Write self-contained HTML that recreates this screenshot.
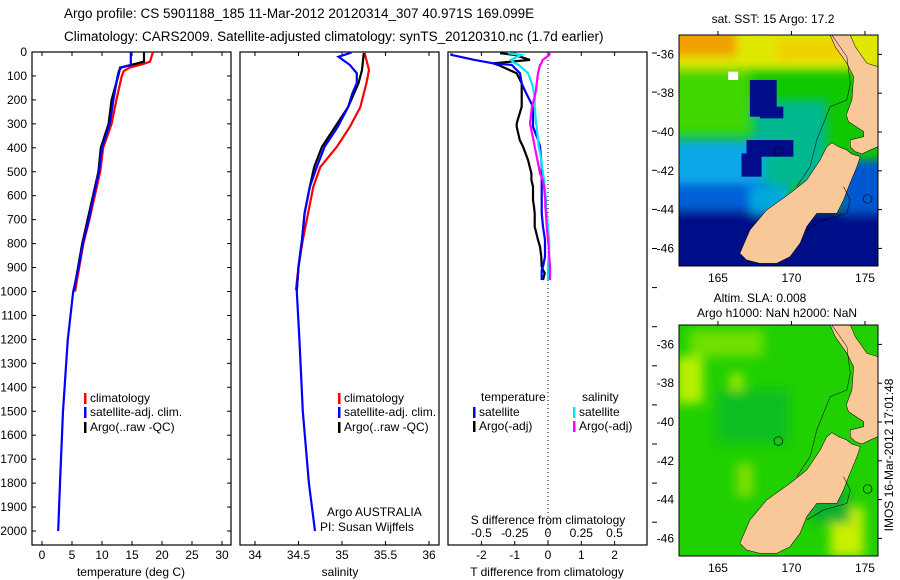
<!DOCTYPE html>
<html><head><meta charset="utf-8">
<style>
html,body{margin:0;padding:0;background:#fff;}
svg{display:block;font-family:"Liberation Sans",sans-serif;}
</style></head>
<body>
<svg id="fig" width="900" height="580" viewBox="0 0 900 580" xmlns="http://www.w3.org/2000/svg">
<text x="64" y="18" font-size="13.5">Argo profile: CS 5901188_185 11-Mar-2012 20120314_307 40.971S 169.099E</text>
<text x="64" y="41" font-size="13.5">Climatology: CARS2009. Satellite-adjusted climatology: synTS_20120310.nc (1.7d earlier)</text>

<!-- top map -->
<g>
<text x="773" y="23" font-size="12" text-anchor="middle">sat. SST: 15 Argo: 17.2</text>
<svg x="679" y="35" width="199" height="231" viewBox="88 105 595 693" preserveAspectRatio="none">
<defs><filter id="bl" filterUnits="userSpaceOnUse" x="0" y="0" width="800" height="900"><feGaussianBlur stdDeviation="14"/></filter></defs>
<rect x="88" y="105" width="595" height="693" fill="#10c800"/>
<g filter="url(#bl)">
<rect x="60" y="80" width="660" height="130" fill="#e0e800"/>
<rect x="60" y="80" width="200" height="90" fill="#f0a000"/>
<rect x="380" y="120" width="200" height="60" fill="#f0d000"/>
<rect x="60" y="220" width="240" height="180" fill="#40d800"/>
<rect x="310" y="300" width="220" height="260" fill="#00b890"/>
<rect x="60" y="420" width="280" height="150" fill="#10a8e8"/>
<rect x="60" y="550" width="300" height="90" fill="#0060d8"/>
<rect x="60" y="630" width="660" height="200" fill="#000c88"/>
<rect x="570" y="480" width="150" height="160" fill="#0058d0"/>
<rect x="300" y="560" width="120" height="80" fill="#00a8e0"/>
</g>
<rect x="300" y="240" width="80" height="110" fill="#000c88"/>
<rect x="330" y="320" width="70" height="35" fill="#000c88"/>
<rect x="290" y="420" width="140" height="50" fill="#000c88"/>
<rect x="275" y="460" width="60" height="70" fill="#000c88"/>
<rect x="235" y="215" width="30" height="25" fill="#fff"/>
<polygon points="270,760 300,690 350,630 420,580 470,540 510,480 530,440 545,428 565,440 590,450 605,462 630,470 620,500 595,560 580,600 560,640 500,640 470,680 450,730 420,770 380,790 330,790 290,780" fill="#f8c898" stroke="#000" stroke-width="1.5"/>
<polygon points="540,105 600,105 615,140 650,190 683,200 683,440 660,450 635,462 615,455 600,440 600,420 640,410 640,395 595,365 588,345 605,300 610,230 590,190 555,140" fill="#f8c898" stroke="#000" stroke-width="1.5"/>
<polyline points="440,560 480,500 500,420 540,320 590,300 600,250 590,170 545,105" fill="none" stroke="#000" stroke-width="1.5"/>
<polyline points="470,690 520,660 590,640 600,600 580,560" fill="none" stroke="#000" stroke-width="1.5"/>
<circle cx="385" cy="453" r="13" fill="none" stroke="#000" stroke-width="2"/>
<circle cx="652" cy="597" r="13" fill="none" stroke="#000" stroke-width="2"/>
</svg>
<rect x="679" y="35" width="199" height="231" fill="none" stroke="#000" stroke-width="1"/>
</g>

<!-- bottom map -->
<g>
<text x="760" y="302" font-size="12" text-anchor="middle">Altim. SLA: 0.008</text>
<text x="777" y="317" font-size="12" text-anchor="middle">Argo h1000: NaN h2000: NaN</text>
<svg x="679" y="325" width="199" height="231" viewBox="88 105 595 693" preserveAspectRatio="none">
<defs><filter id="bl2" filterUnits="userSpaceOnUse" x="0" y="0" width="800" height="900"><feGaussianBlur stdDeviation="16"/></filter></defs>
<rect x="88" y="105" width="595" height="693" fill="#20d000"/>
<g filter="url(#bl2)">
<rect x="80" y="200" width="80" height="140" fill="#b8f000"/>
<rect x="240" y="250" width="40" height="70" fill="#a0e800"/>
<rect x="120" y="120" width="220" height="80" fill="#70e000"/>
<rect x="540" y="650" width="100" height="150" fill="#c8f000"/>
<rect x="260" y="520" width="50" height="100" fill="#80e000"/>
<rect x="480" y="600" width="120" height="100" fill="#10b030"/>
<rect x="200" y="300" width="220" height="160" fill="#10c020"/>
</g>
<polygon points="270,760 300,690 350,630 420,580 470,540 510,480 530,440 545,428 565,440 590,450 605,462 630,470 620,500 595,560 580,600 560,640 500,640 470,680 450,730 420,770 380,790 330,790 290,780" fill="#f8c898" stroke="#000" stroke-width="1.5"/>
<polygon points="540,105 600,105 615,140 650,190 683,200 683,440 660,450 635,462 615,455 600,440 600,420 640,410 640,395 595,365 588,345 605,300 610,230 590,190 555,140" fill="#f8c898" stroke="#000" stroke-width="1.5"/>
<polyline points="440,560 480,500 500,420 540,320 590,300 600,250 590,170 545,105" fill="none" stroke="#000" stroke-width="1.5"/>
<polyline points="470,690 520,660 590,640 600,600 580,560" fill="none" stroke="#000" stroke-width="1.5"/>
<circle cx="385" cy="453" r="13" fill="none" stroke="#000" stroke-width="2"/>
<circle cx="652" cy="597" r="13" fill="none" stroke="#000" stroke-width="2"/>
</svg>
<rect x="679" y="325" width="199" height="231" fill="none" stroke="#000" stroke-width="1"/>
</g>
<text transform="translate(893,455) rotate(-90)" font-size="12" text-anchor="middle">IMOS 16-Mar-2012 17:01:48</text>

<g id="dyn"></g>
</svg>
<script>
// ---------- data ----------
var tempDepth = [0,40,50,65,80,100,200,300,400,500,600,700,800,900,1000];
var tempClim  = [18.5,18.0,16.9,14.6,13.6,13.3,12.4,11.6,10.2,9.7,8.8,7.9,6.9,6.2,5.5];
var tempArgo  = [17.0,17.0,15.5,13.0,12.9,12.7,11.6,11.1,9.8,9.4,8.5,7.6,6.7,6.0,5.3];
var tempSatDepth = [0,55,65,80,100,200,300,400,500,600,700,800,900,1000,1200,1500,1800,2000];
var tempSat   = [14.8,14.8,13.2,12.8,12.6,11.9,11.3,10.0,9.5,8.6,7.8,6.8,6.1,5.2,4.3,3.5,3.0,2.7];

var salDepth = [4,75,130,230,313,396,480,563,673,785,897,995];
var salClim  = [35.26,35.31,35.28,35.21,35.09,34.94,34.75,34.67,34.61,34.55,34.50,34.47];
var salArgo  = [35.25,35.23,35.19,35.07,34.92,34.77,34.68,34.63,34.57,34.54,34.50,34.48];
var salSatDepth = [2,20,54,88,130,172,230,313,396,480,563,673,785,897,1000,1200,1500,1800,2000];
var salSat   = [35.11,34.96,35.09,35.17,35.17,35.12,35.07,34.95,34.80,34.71,34.63,34.57,34.54,34.50,34.48,34.51,34.55,34.62,34.69];

var dDepth = [5,12,33,47,54,89,131,159,187,228,298,312,367,395,451,479,507,534,562,618,646,674,729,785,813,855,896,910,924,952];
var dTsat  = [-2.9,-2.9,-2.2,-1.65,-1.09,-0.84,-0.79,-0.7,-0.6,-0.45,-0.45,-0.45,-0.3,-0.24,-0.2,-0.19,-0.19,-0.19,-0.19,-0.19,-0.19,-0.19,-0.15,-0.09,-0.09,-0.09,-0.15,-0.19,-0.19,-0.19];
var dTargo = [-1.44,-1.0,-0.54,-1.65,-1.5,-0.94,-0.79,-0.79,-0.79,-0.79,-0.94,-0.94,-0.85,-0.75,-0.6,-0.55,-0.5,-0.5,-0.45,-0.45,-0.42,-0.4,-0.4,-0.3,-0.24,-0.2,-0.19,-0.15,-0.1,-0.15];
var dSsat  = [-0.30,-0.2,-0.28,-0.25,-0.22,-0.15,-0.12,-0.11,-0.1,-0.1,-0.09,-0.085,-0.075,-0.07,-0.05,-0.045,-0.037,-0.03,-0.025,-0.015,-0.015,-0.01,0.0,0.008,0.01,0.005,0.0,0.0,0.0,0.0];
var dSargo = [0.015,0.01,-0.04,-0.05,-0.06,-0.075,-0.085,-0.09,-0.1,-0.12,-0.135,-0.13,-0.11,-0.1,-0.08,-0.07,-0.06,-0.04,-0.03,-0.02,-0.02,-0.015,-0.01,0.0,0.005,0.01,0.015,0.015,0.015,0.015];

var depthTicks = [0,100,200,300,400,500,600,700,800,900,1000,1100,1200,1300,1400,1500,1600,1700,1800,1900,2000];
var tTicks = [0,5,10,15,20,25,30];
var sTicks = [34,34.5,35,35.5,36];
var dTTicks = [-2,-1,0,1,2];
var dSTicks = [-0.5,-0.25,0,0.25,0.5];
var latTicks = [-36,-38,-40,-42,-44,-46];
var lonTicks = [165,170,175];

// ---------- scales ----------
var NS='http://www.w3.org/2000/svg';
var g=document.getElementById('dyn');
function Y(d){return 52+d*0.2395;}
function XT(t){return 42+t*6;}
function XS(s){return 255+(s-34)*87;}
function XDT(v){return 548+v*33.3;}
function XDS(v){return 548+v*133;}
function mk(tag,at,txt){var e=document.createElementNS(NS,tag);for(var k in at)e.setAttribute(k,at[k]);if(txt!==undefined)e.textContent=txt;g.appendChild(e);return e;}

function line(xs,ds,xf,col,name){
  var p='';
  for(var i=0;i<xs.length;i++){p+=(i?' ':'')+xf(xs[i]).toFixed(1)+','+Y(ds[i]).toFixed(1);}
  var e=mk('polyline',{points:p,fill:'none',stroke:col,'stroke-width':2.2});
  
  
}

var frames=[[32,'temperature-panel'],[240,'salinity-panel'],[448,'difference-panel']];
frames.forEach(function(f){
  var e=mk('rect',{x:f[0],y:52,width:199,height:493,fill:'none',stroke:'#000','stroke-width':1.2});
  
  
});

depthTicks.forEach(function(d){
  var e=mk('text',{x:27,y:Y(d)+4,'font-size':12,'text-anchor':'end'},String(d));
  
  
  mk('line',{x1:32,x2:36,y1:Y(d),y2:Y(d),stroke:'#000'});
  mk('line',{x1:227,x2:231,y1:Y(d),y2:Y(d),stroke:'#000'});
});
for(var k=0;k<13;k++){var yy=53+k*39.1;mk('line',{x1:652,x2:657,y1:yy,y2:yy,stroke:'#000'});}

function xticks(arr,xf,y){
  arr.forEach(function(v){
    var x=xf(v);
    mk('line',{x1:x,x2:x,y1:545,y2:541,stroke:'#000'});
    mk('line',{x1:x,x2:x,y1:52,y2:56,stroke:'#000'});
    var e=mk('text',{x:x,y:y,'font-size':12,'text-anchor':'middle'},String(v));
    
    
  });
}
xticks(tTicks,XT,559);
xticks(sTicks,XS,559);
xticks(dTTicks,XDT,559);
dSTicks.forEach(function(v){
  var e=mk('text',{x:XDS(v),y:537,'font-size':12,'text-anchor':'middle'},String(v));
  
  
});
mk('line',{x1:XDT(0),x2:XDT(0),y1:52,y2:545,stroke:'#000','stroke-dasharray':'1,3'});

[[131,'temperature (deg C)','x-axis-title-temperature'],[340,'salinity','x-axis-title-salinity'],[547,'T difference from climatology','x-axis-title-tdiff']].forEach(function(a){
  var e=mk('text',{x:a[0],y:576,'font-size':12,'text-anchor':'middle'},a[1]);
  
  
});
var st=mk('text',{x:548,y:524,'font-size':12,'text-anchor':'middle'},'S difference from climatology');


var a1=mk('text',{x:327,y:516,'font-size':12},'Argo AUSTRALIA');


var a2=mk('text',{x:320,y:531,'font-size':12},'PI: Susan Wijffels');



line(tempClim,tempDepth,XT,'#ff0000','temp-climatology-line');
line(tempArgo,tempDepth,XT,'#000000','temp-argo-line');
line(tempSat,tempSatDepth,XT,'#0000ff','temp-satellite-line');
line(salClim,salDepth,XS,'#ff0000','sal-climatology-line');
line(salArgo,salDepth,XS,'#000000','sal-argo-line');
line(salSat,salSatDepth,XS,'#0000ff','sal-satellite-line');
line(dTargo,dDepth,XDT,'#000000','tdiff-argo-line');
line(dTsat,dDepth,XDT,'#0000ff','tdiff-satellite-line');
line(dSsat,dDepth,XDS,'#00e8f0','sdiff-satellite-line');
line(dSargo,dDepth,XDS,'#ff00ff','sdiff-argo-line');

function leg(x,y,col,txt){
  mk('rect',{x:x,y:y-9,width:2.5,height:11,fill:col});
  var e=mk('text',{x:x+6,y:y,'font-size':12},txt);
  
  
}
leg(84,402,'#ff0000','climatology');leg(84,416,'#0000ff','satellite-adj. clim.');leg(84,431,'#000','Argo(..raw -QC)');
leg(338,402,'#ff0000','climatology');leg(338,416,'#0000ff','satellite-adj. clim.');leg(338,431,'#000','Argo(..raw -QC)');
var lt=mk('text',{x:481,y:401,'font-size':12},'temperature');


var ls=mk('text',{x:582,y:401,'font-size':12},'salinity');


leg(473,416,'#0000ff','satellite');leg(473,430,'#000','Argo(-adj)');
leg(573,416,'#00e8f0','satellite');leg(573,430,'#ff00ff','Argo(-adj)');

function LATY(l,top){return top+ (l+35)*(-19.4);}
function LONX(l){return 679+(l-162.35)*14.7;}
[35,325].forEach(function(top){
  latTicks.forEach(function(l){
    var y=LATY(l,top);
    var e=mk('text',{x:674,y:y+4,'font-size':12,'text-anchor':'end'},String(l));
    
    
    mk('line',{x1:878,x2:882,y1:y,y2:y,stroke:'#000'});
  });
  lonTicks.forEach(function(l){
    var x=LONX(l);
    var e=mk('text',{x:x,y:top+231+16,'font-size':12,'text-anchor':'middle'},String(l));
    
    
    mk('line',{x1:x,x2:x,y1:top,y2:top-4,stroke:'#000'});
  });
});
</script>
</body></html>
